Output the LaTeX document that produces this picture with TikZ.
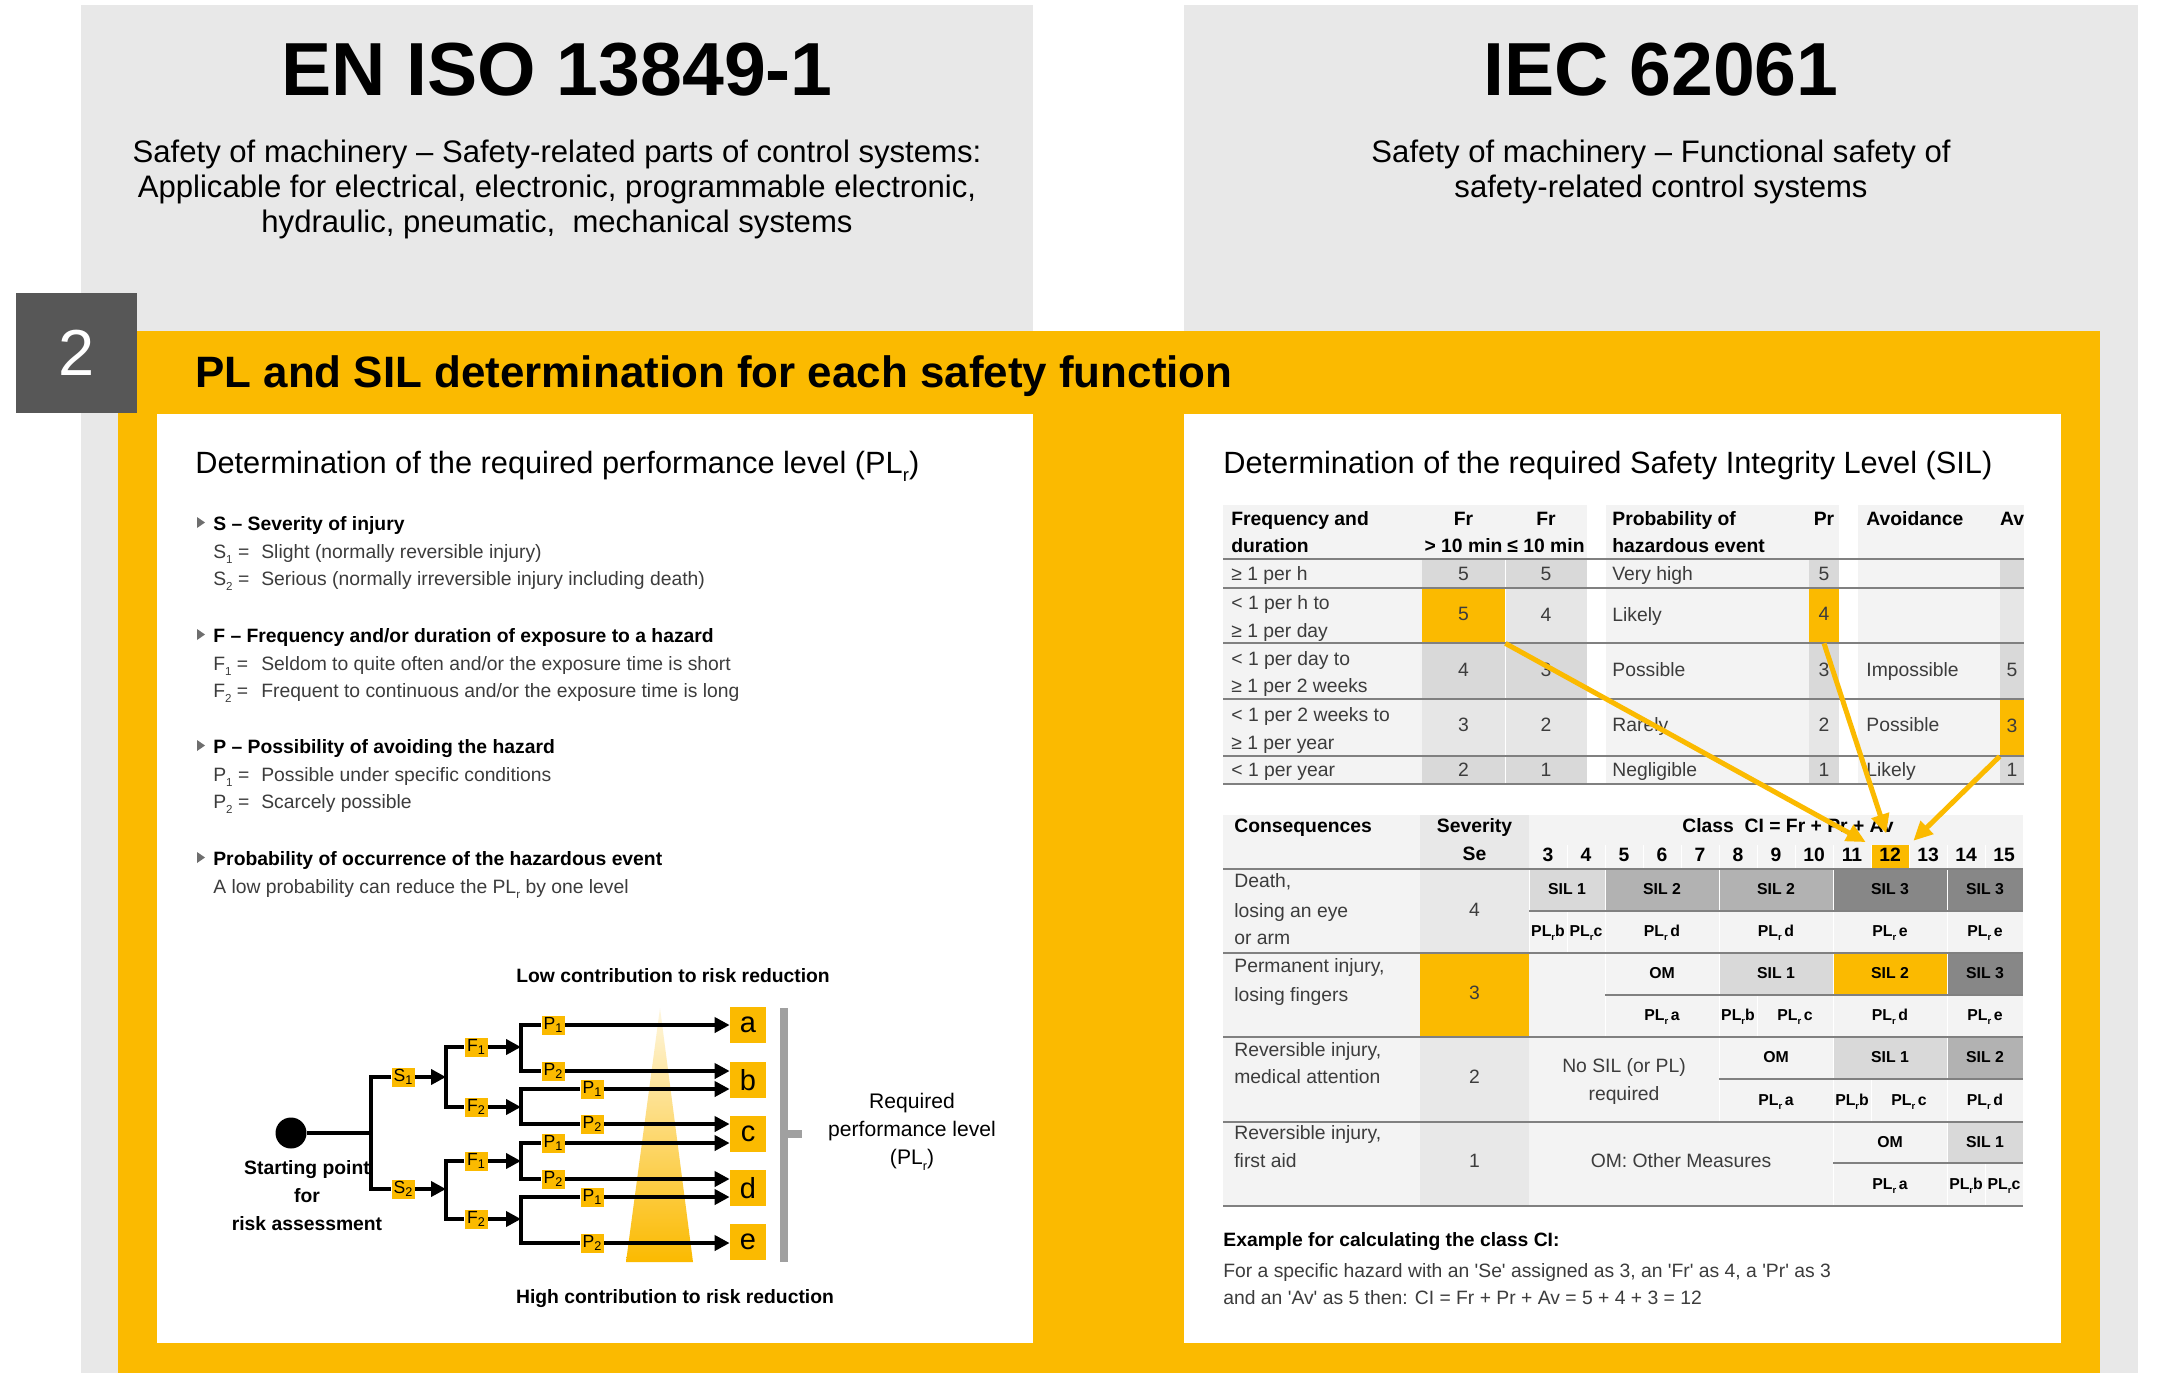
\documentclass[tikz,border=0pt]{standalone}
\usepackage{fontspec}
\setmainfont{Liberation Sans}
\usetikzlibrary{arrows.meta,positioning}

\definecolor{pilzyellow}{RGB}{251,186,0}
\definecolor{headgray}{RGB}{232,232,232}
\definecolor{darkbox}{RGB}{87,87,87}
\definecolor{cellpale}{RGB}{243,243,243}
\definecolor{cellmid}{RGB}{217,217,217}
\definecolor{celllight}{RGB}{230,230,230}
\definecolor{sevgray}{RGB}{232,232,232}
\definecolor{silone}{RGB}{217,217,217}
\definecolor{siltwo}{RGB}{178,178,178}
\definecolor{silthree}{RGB}{135,135,135}
\definecolor{rulegray}{RGB}{128,128,128}
\definecolor{bulletgray}{RGB}{110,110,110}
\definecolor{bracketgray}{RGB}{160,160,160}
\definecolor{bodytext}{RGB}{60,60,60}

\newlength{\px}
\setlength{\px}{0.02cm}
\newcommand{\lowidx}[1]{\raisebox{-0.5ex}{\scalebox{0.6}{#1}}}
\newcommand{\lowsub}[1]{\raisebox{-0.3ex}{\scalebox{0.72}{#1}}}

\begin{document}
\begin{tikzpicture}[x=0.02cm,y=-0.02cm,
    bigtitle/.style={inner sep=0,anchor=base,font=\fontsize{42.8}{50}\selectfont\bfseries},
    subtitle/.style={inner sep=0,anchor=north,align=center,font=\fontsize{17.7}{19.8}\selectfont},
    numbox/.style={fill=darkbox,text=white,minimum width=121\px,minimum height=120\px,inner sep=0,font=\fontsize{37}{40}\selectfont},
    bandtitle/.style={inner sep=0,anchor=base west,font=\fontsize{25}{30}\selectfont\bfseries},
    paneltitle/.style={inner sep=0,anchor=base west,font=\fontsize{17.5}{20}\selectfont},
    listhead/.style={inner sep=0,anchor=base west,font=\fontsize{11}{13}\selectfont\bfseries},
    listbody/.style={inner sep=0,anchor=base west,text=bodytext,font=\fontsize{11}{13}\selectfont},
    bullet/.style={fill=bulletgray},
    treeline/.style={line width=4\px},
    treearrow/.style={line width=4\px,-{Triangle[length=8.5pt,width=8.5pt]}},
    startdot/.style={circle,fill=black,minimum size=31\px,inner sep=0},
    lvlbox/.style={fill=pilzyellow,minimum width=23\px,minimum height=19\px,inner sep=0,font=\fontsize{10}{11}\selectfont},
    plbox/.style={fill=pilzyellow,minimum width=36\px,minimum height=36\px,inner sep=0,font=\fontsize{16.5}{18}\selectfont},
    treelabel/.style={inner sep=0,align=center,font=\fontsize{11}{15.9}\selectfont\bfseries},
    celltext/.style={inner sep=0,text height=0.72em,text depth=0.2em,text=bodytext,font=\fontsize{11}{13}\selectfont},
    cellhead/.style={celltext,text=black,font=\fontsize{11}{13}\selectfont\bfseries},
    silfont/.style={celltext,text=black,font=\fontsize{9}{11}\selectfont\bfseries},
    rule/.style={rulegray,line width=1.5\px},
    selarrow/.style={pilzyellow,line width=5\px,-{Triangle[length=11pt,width=10pt]},shorten >=6\px}
  ]

  \useasboundingbox (0,0) rectangle (2159,1373);

  % background blocks
  \fill[headgray] (81,5) rectangle (1033,1373);
  \fill[headgray] (1184,5) rectangle (2138,1373);
  \fill[pilzyellow] (118,331) rectangle (2100,1373);
  \fill[white] (157,414) rectangle (1033,1343);
  \fill[white] (1184,414) rectangle (2061,1343);
  \node[numbox] (secno) at (76.5,353) {2};

  \node[bigtitle] (isotitle) at (557,95) {EN ISO 13849-1};
  \node[subtitle] (isosub) at (557,140) {Safety of machinery – Safety-related parts of control systems:\\
    Applicable for electrical, electronic, programmable electronic,\\
    hydraulic, pneumatic,\ \ mechanical systems};
  \node[bigtitle] (iectitle) at (1661,95) {IEC 62061};
  \node[subtitle] (iecsub) at (1661,140) {Safety of machinery – Functional safety of\\
    safety-related control systems};

  \node[bandtitle] (bandtitle) at (195,387) {PL and SIL determination for each safety function};
  \node[paneltitle] (pltitle) at (195,473) {Determination of the required performance level (PL\lowidx{r})};
  \node[paneltitle] (siltitle) at (1223,473) {Determination of the required Safety Integrity Level (SIL)};

  % left list
  \foreach \b in {530,642,753,865}
    \fill[bullet] (197,{\b-13}) -- (205,{\b-7.5}) -- (197,{\b-2}) -- cycle;
  \node[listhead] (heads) at (213,530) {S – Severity of injury};
  \node[listhead] (headf) at (213,642) {F – Frequency and/or duration of exposure to a hazard};
  \node[listhead] (headp) at (213,753) {P – Possibility of avoiding the hazard};
  \node[listhead] (headprob) at (213,865) {Probability of occurrence of the hazardous event};
  \foreach \b/\lab/\txt [count=\i] in {558/S/{Slight (normally reversible injury)},
      585/S/{Serious (normally irreversible injury including death)},
      670/F/{Seldom to quite often and/or the exposure time is short},
      697/F/{Frequent to continuous and/or the exposure time is long},
      781/P/{Possible under specific conditions},
      808/P/{Scarcely possible}} {
    \pgfmathtruncatemacro{\k}{mod(\i+1,2)+1}
    \node[listbody] (deflab\i) at (213,\b) {\lab\lowidx{\k} =};
    \node[listbody] (deftxt\i) at (261,\b) {\txt};
  }
  \node[listbody] (probtxt) at (213,893) {A low probability can reduce the PL\lowidx{r} by one level};

  % risk graph
  \shade[top color=pilzyellow!12,bottom color=pilzyellow] (660,1008) -- (693,1262) -- (626,1262) -- cycle;
  \node[treelabel] (lowlabel) at (673,976) {Low contribution to risk reduction};
  \node[treelabel] (highlabel) at (675,1299) {High contribution to risk reduction};
  \node[treelabel] (startlabel) at (307,1196) {Starting point\\for\\risk assessment};

  \node[startdot] (start) at (291,1133) {};
  \coordinate (fork0) at (371,1133);
  \node[lvlbox] (s1) at (403,1077) {S\lowsub{1}};
  \node[lvlbox] (s2) at (403,1189) {S\lowsub{2}};
  \coordinate (forks1) at (446,1077);
  \coordinate (forks2) at (446,1189);
  \node[lvlbox] (f1a) at (476,1047) {F\lowsub{1}};
  \node[lvlbox] (f2a) at (476,1107) {F\lowsub{2}};
  \node[lvlbox] (f1b) at (476,1161) {F\lowsub{1}};
  \node[lvlbox] (f2b) at (476,1219) {F\lowsub{2}};
  \coordinate (forkf1a) at (521,1047);
  \coordinate (forkf2a) at (521,1107);
  \coordinate (forkf1b) at (521,1161);
  \coordinate (forkf2b) at (521,1219);
  \node[lvlbox] (p1a) at (553,1025) {P\lowsub{1}};
  \node[lvlbox] (p2a) at (553,1071) {P\lowsub{2}};
  \node[lvlbox] (p1b) at (592,1089) {P\lowsub{1}};
  \node[lvlbox] (p2b) at (592,1124) {P\lowsub{2}};
  \node[lvlbox] (p1c) at (553,1143) {P\lowsub{1}};
  \node[lvlbox] (p2c) at (553,1179) {P\lowsub{2}};
  \node[lvlbox] (p1d) at (592,1197) {P\lowsub{1}};
  \node[lvlbox] (p2d) at (592,1243) {P\lowsub{2}};
  \node[plbox] (pla) at (748,1025) {a};
  \node[plbox] (plb) at (748,1080) {b};
  \node[plbox] (plc) at (748,1134) {c};
  \node[plbox] (pld) at (748,1188) {d};
  \node[plbox] (ple) at (748,1242) {e};

  \draw[treeline] (start) -- (fork0);
  \draw[treeline] (s1) -| (fork0) |- (s2);
  \draw[treearrow] (s1) -- (forks1);
  \draw[treearrow] (s2) -- (forks2);
  \draw[treeline] (f1a) -| (forks1) |- (f2a);
  \draw[treeline] (f1b) -| (forks2) |- (f2b);
  \draw[treearrow] (f1a) -- (forkf1a);
  \draw[treearrow] (f2a) -- (forkf2a);
  \draw[treearrow] (f1b) -- (forkf1b);
  \draw[treearrow] (f2b) -- (forkf2b);
  \draw[treeline] (p1a) -| (forkf1a) |- (p2a);
  \draw[treeline] (p1b) -| (forkf2a) |- (p2b);
  \draw[treeline] (p1c) -| (forkf1b) |- (p2c);
  \draw[treeline] (p1d) -| (forkf2b) |- (p2d);
  \draw[treearrow] (p1a) -- (pla);
  \draw[treearrow] (p2a) -- (p2a -| plb.west);
  \draw[treearrow] (p1b) -- (p1b -| plb.west);
  \draw[treearrow] (p2b) -- (p2b -| plc.west);
  \draw[treearrow] (p1c) -- (p1c -| plc.west);
  \draw[treearrow] (p2c) -- (p2c -| pld.west);
  \draw[treearrow] (p1d) -- (p1d -| pld.west);
  \draw[treearrow] (p2d) -- (p2d -| ple.west);

  \coordinate (brtop) at (784,1008);
  \coordinate (brbot) at (784,1262);
  \coordinate (brmid) at (784,1134);
  \draw[bracketgray,line width=8\px] (brtop) -- (brbot);
  \draw[bracketgray,line width=8\px] (brmid) -- ++(18,0) coordinate (brtick);
  \node[inner sep=0,align=center,font=\fontsize{12}{15.9}\selectfont] (reqlabel) at (912,1132)
    {Required\\performance level\\(PL\lowidx{r})};

  % upper table: Fr, Pr, Av
  \fill[cellpale] (1223,505) rectangle (1587,559);
  \fill[cellpale] (1606,505) rectangle (1839,559);
  \fill[cellpale] (1858,505) rectangle (2024,559);
  \fill[cellpale] (1223,559) rectangle (1422,784);
  \fill[cellpale] (1606,559) rectangle (1809,784);
  \fill[cellpale] (1858,559) rectangle (2000,784);
  \foreach \top/\bot/\tone in {559/588/cellmid,588/643/celllight,643/699/cellmid,699/756/celllight,756/784/cellmid} {
    \fill[\tone] (1422,\top) rectangle (1587,\bot);
    \fill[\tone] (1809,\top) rectangle (1839,\bot);
    \fill[\tone] (2000,\top) rectangle (2024,\bot);
  }
  \draw[white,line width=1\px] (1505,559) -- (1505,784);
  \node[fill=pilzyellow,minimum width=83\px,minimum height=55\px,inner sep=0,celltext] (frsel) at (1463.5,615.5) {5};
  \node[fill=pilzyellow,minimum width=30\px,minimum height=55\px,inner sep=0,celltext] (prsel) at (1824,615.5) {4};
  \node[fill=pilzyellow,minimum width=24\px,minimum height=57\px,inner sep=0,celltext] (avsel) at (2012,727.5) {3};
  \foreach \y in {559,588,643,699,756,784}
    \draw[rule] (1223,\y) -- (2024,\y);

  \node[cellhead,anchor=west] (frqhead1) at (1231,521) {Frequency and};
  \node[cellhead,anchor=west] (frqhead2) at (1231,548) {duration};
  \node[cellhead] (fralong1) at (1463.5,521) {Fr};
  \node[cellhead] (fralong2) at (1463.5,548) {> 10 min};
  \node[cellhead] (frshort1) at (1546,521) {Fr};
  \node[cellhead] (frshort2) at (1546,548) {≤ 10 min};
  \node[cellhead,anchor=west] (probhead1) at (1612,521) {Probability of};
  \node[cellhead,anchor=west] (probhead2) at (1612,548) {hazardous event};
  \node[cellhead] (prhead) at (1824,521) {Pr};
  \node[cellhead,anchor=west] (avohead) at (1866,521) {Avoidance};
  \node[cellhead] (avhead) at (2012,521) {Av};
  \foreach \y/\txt [count=\i] in {576/{≥ 1 per h},605/{< 1 per h to},633/{≥ 1 per day},661/{< 1 per day to},
      688/{≥ 1 per 2 weeks},717/{< 1 per 2 weeks to},745/{≥ 1 per year},772/{< 1 per year}}
    \node[celltext,anchor=west] (frqrow\i) at (1231,\y) {\txt};
  \foreach \y/\v [count=\i] in {576/5,672/4,727/3,772/2}
    \node[celltext] (frlongval\i) at (1463.5,\y) {\v};
  \foreach \y/\v [count=\i] in {576/5,617/4,672/3,727/2,772/1}
    \node[celltext] (frshortval\i) at (1546,\y) {\v};
  \foreach \y/\txt [count=\i] in {576/Very high,617/Likely,672/Possible,727/Rarely,772/Negligible}
    \node[celltext,anchor=west] (prob\i) at (1612,\y) {\txt};
  \foreach \y/\v [count=\i] in {576/5,672/3,727/2,772/1}
    \node[celltext] (prval\i) at (1824,\y) {\v};
  \foreach \y/\txt [count=\i] in {672/Impossible,727/Possible,772/Likely}
    \node[celltext,anchor=west] (avo\i) at (1866,\y) {\txt};
  \foreach \y/\v [count=\i] in {672/5,772/1}
    \node[celltext] (avval\i) at (2012,\y) {\v};

  % lower table: consequences and class CI
  \fill[cellpale] (1223,815) rectangle (2023,1206);
  \fill[sevgray] (1420,815) rectangle (1529,1206);
  \fill[pilzyellow] (1871,845) rectangle (1909,869);
  \foreach \k in {4,...,15}
    \draw[white,line width=1\px] ({1415+38*\k},845) -- ({1415+38*\k},869);
  \foreach \ka/\kb/\top/\bot/\tone/\txt [count=\i] in {
      3/4/869/911/silone/{SIL 1},5/7/869/911/siltwo/{SIL 2},8/10/869/911/siltwo/{SIL 2},
      11/13/869/911/silthree/{SIL 3},14/15/869/911/silthree/{SIL 3},
      3/3/911/953/cellpale/{PL\lowidx{r}b},4/4/911/953/cellpale/{PL\lowidx{r}c},
      5/7/911/953/cellpale/{PL\lowidx{r}\,d},8/10/911/953/cellpale/{PL\lowidx{r}\,d},
      11/13/911/953/cellpale/{PL\lowidx{r}\,e},14/15/911/953/cellpale/{PL\lowidx{r}\,e},
      5/7/953/995/cellpale/{OM},8/10/953/995/silone/{SIL 1},11/13/953/995/pilzyellow/{SIL 2},
      14/15/953/995/silthree/{SIL 3},
      5/7/995/1037/cellpale/{PL\lowidx{r}\,a},8/8/995/1037/cellpale/{PL\lowidx{r}b},
      9/10/995/1037/cellpale/{PL\lowidx{r}\,c},11/13/995/1037/cellpale/{PL\lowidx{r}\,d},
      14/15/995/1037/cellpale/{PL\lowidx{r}\,e},
      8/10/1037/1079/cellpale/{OM},11/13/1037/1079/silone/{SIL 1},14/15/1037/1079/siltwo/{SIL 2},
      8/10/1079/1122/cellpale/{PL\lowidx{r}\,a},11/11/1079/1122/cellpale/{PL\lowidx{r}b},
      12/13/1079/1122/cellpale/{PL\lowidx{r}\,c},14/15/1079/1122/cellpale/{PL\lowidx{r}\,d},
      11/13/1122/1163/cellpale/{OM},14/15/1122/1163/silone/{SIL 1},
      11/13/1163/1206/cellpale/{PL\lowidx{r}\,a},14/14/1163/1206/cellpale/{PL\lowidx{r}b},
      15/15/1163/1206/cellpale/{PL\lowidx{r}c}} {
    \path[fill=\tone,draw=white,line width=1\px] ({1415+38*\ka},\top) rectangle ({1453+38*\kb},\bot);
    \node[silfont] (silcell\i) at ({1434+19*(\ka+\kb)},{(\top+\bot)/2}) {\txt};
  }
  \node[fill=pilzyellow,minimum width=109\px,minimum height=84\px,inner sep=0,celltext] (sevsel) at (1474.5,995) {3};
  \foreach \y in {869,953,1037,1122,1206}
    \draw[rule] (1223,\y) -- (2023,\y);
  \foreach \y/\x in {911/1529,995/1605,1079/1719,1163/1833}
    \draw[rule] (\x,\y) -- (2023,\y);

  \node[cellhead,anchor=west] (conshead) at (1234,828) {Consequences};
  \node[cellhead] (sevhead1) at (1474.5,828) {Severity};
  \node[cellhead] (sevhead2) at (1474.5,856) {Se};
  \node[cellhead] (classhead) at (1788,828) {Class\ \ CI = Fr + Pr + Av};
  \foreach \k in {3,...,15}
    \node[cellhead] (cl\k) at ({1434+38*\k},857) {\k};
  \coordinate (cl12top) at (1890,845);
  \foreach \y/\txt [count=\i] in {883/{Death,},913/{losing an eye},940/{or arm},968/{Permanent injury,},
      997/{losing fingers},1052/{Reversible injury,},1079/{medical attention},1135/{Reversible injury,},
      1163/{first aid}}
    \node[celltext,anchor=west] (cons\i) at (1234,\y) {\txt};
  \foreach \y/\v [count=\i] in {912/4,1079/2,1163/1}
    \node[celltext] (sev\i) at (1474.5,\y) {\v};
  \node[celltext] (nosil1) at (1624,1068) {No SIL (or PL)};
  \node[celltext] (nosil2) at (1624,1096) {required};
  \node[celltext] (omnote) at (1681,1163) {OM: Other Measures};

  \node[cellhead,anchor=west] (exhead) at (1223,1242) {Example for calculating the class CI:};
  \node[celltext,anchor=west] (exline1) at (1223,1273) {For a specific hazard with an \textquotesingle Se\textquotesingle\ assigned as 3, an \textquotesingle Fr\textquotesingle\ as 4, a \textquotesingle Pr\textquotesingle\ as 3};
  \node[celltext,anchor=west] (exline2) at (1223,1300) {and an \textquotesingle Av\textquotesingle\ as 5 then: CI = Fr + Pr + Av = 5 + 4 + 3 = 12};

  % selection arrows
  \draw[selarrow] (frsel.south east) -- (1871,845);
  \draw[selarrow,shorten >=12\px] (prsel.south) -- (cl12top);
  \draw[selarrow] (avsel.south west) -- (1909,845);

\end{tikzpicture}
\end{document}
